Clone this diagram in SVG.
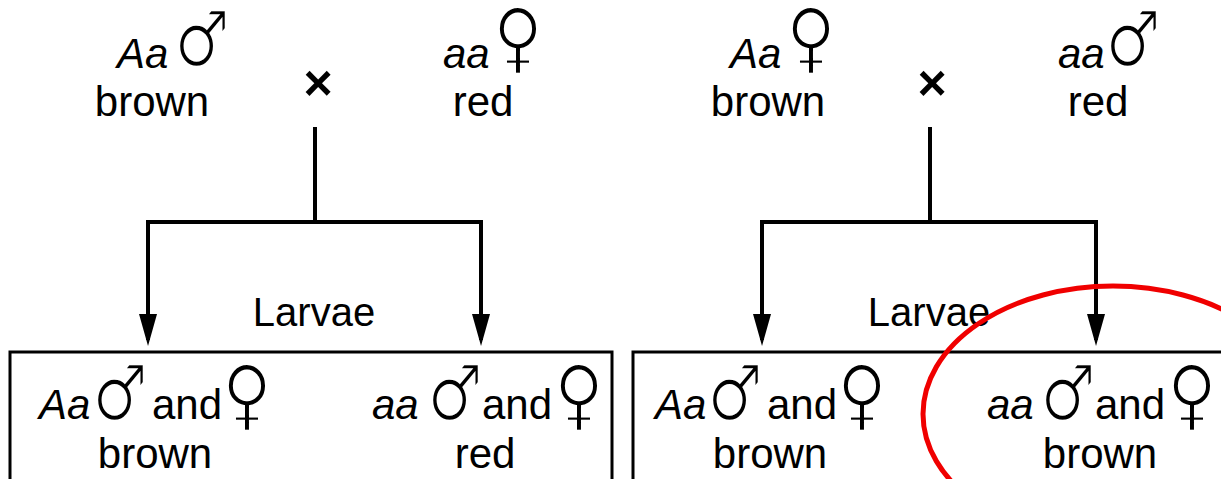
<svg xmlns="http://www.w3.org/2000/svg" width="1221" height="479" viewBox="0 0 1221 479">
  <style>
    .t { font-family: "Liberation Sans", Arial, sans-serif; font-size: 42px; fill: #000; }
    .i { font-style: italic; }
    .m { text-anchor: middle; }
    /* sex symbols: glyphs thinned with a white outline */
    .male { font-family: "DejaVu Sans", sans-serif; font-size: 62px; text-anchor: middle; fill: #000; stroke: #fff; stroke-width: 2; }
    .female { font-family: "DejaVu Sans", sans-serif; font-size: 68px; text-anchor: middle; fill: #000; stroke: #fff; stroke-width: 2; }
    .x { font-family: "Liberation Sans", Arial, sans-serif; font-size: 50px; font-weight: bold; text-anchor: middle; }
    .lbl { font-family: "Liberation Sans", Arial, sans-serif; font-size: 40px; text-anchor: middle; }
    .wire { fill: none; stroke: #000; stroke-width: 4; }
    .box { fill: none; stroke: #000; stroke-width: 3; }
  </style>
  <defs>
    <marker id="arrow" markerUnits="userSpaceOnUse" viewBox="0 0 32 18" refX="26" refY="9" markerWidth="32" markerHeight="18" orient="auto">
      <path d="M0,0 L32,9 L0,18 z" fill="#000"/>
    </marker>
  </defs>
  <rect width="1221" height="479" fill="#fff"/>

  <!-- left cross: Aa male x aa female -->
  <g id="left-parent-male">
    <text class="t i" x="117" y="68">Aa</text>
    <text class="male" transform="translate(202,66) scale(1,1.25)">♂</text>
    <text class="t m" x="152" y="116">brown</text>
  </g>
  <g id="left-cross"><text class="x" x="318" y="100">×</text></g>
  <g id="left-parent-female">
    <text class="t i" x="443" y="68">aa</text>
    <text class="female" transform="translate(518,64) scale(1,1.15)">♀</text>
    <text class="t m" x="483" y="116">red</text>
  </g>
  <g id="left-larvae-label"><text class="lbl" x="314" y="326">Larvae</text></g>
  <g id="left-offspring">
    <rect class="box" x="10" y="352" width="602" height="150"/>
    <text class="t i" x="39" y="419">Aa</text>
    <text class="male" transform="translate(120,420) scale(1,1.25)">♂</text>
    <text class="t" x="152" y="419">and</text>
    <text class="female" transform="translate(247,421) scale(1,1.15)">♀</text>
    <text class="t m" x="155" y="468">brown</text>
    <text class="t i" x="372" y="419">aa</text>
    <text class="male" transform="translate(455,420) scale(1,1.25)">♂</text>
    <text class="t" x="482" y="419">and</text>
    <text class="female" transform="translate(579,421) scale(1,1.15)">♀</text>
    <text class="t m" x="485" y="468">red</text>
  </g>

  <!-- right cross: Aa female x aa male -->
  <g id="right-parent-female">
    <text class="t i" x="730" y="68">Aa</text>
    <text class="female" transform="translate(811,64) scale(1,1.15)">♀</text>
    <text class="t m" x="768" y="116">brown</text>
  </g>
  <g id="right-cross"><text class="x" x="932" y="100">×</text></g>
  <g id="right-parent-male">
    <text class="t i" x="1058" y="68">aa</text>
    <text class="male" transform="translate(1133,66) scale(1,1.25)">♂</text>
    <text class="t m" x="1098" y="116">red</text>
  </g>
  <g id="right-larvae-label"><text class="lbl" x="929" y="326">Larvae</text></g>
  <g id="right-offspring">
    <rect class="box" x="633" y="352" width="600" height="150"/>
    <text class="t i" x="655" y="419">Aa</text>
    <text class="male" transform="translate(735,420) scale(1,1.25)">♂</text>
    <text class="t" x="767" y="419">and</text>
    <text class="female" transform="translate(862,421) scale(1,1.15)">♀</text>
    <text class="t m" x="770" y="468">brown</text>
    <text class="t i" x="987" y="419">aa</text>
    <text class="male" transform="translate(1068,420) scale(1,1.25)">♂</text>
    <text class="t" x="1095" y="419">and</text>
    <text class="female" transform="translate(1192,421) scale(1,1.15)">♀</text>
    <text class="t m" x="1100" y="468">brown</text>
  </g>

  <g id="connectors">
    <path class="wire" d="M315,127 V222"/>
    <path class="wire" d="M315,222 H148 V340" marker-end="url(#arrow)"/>
    <path class="wire" d="M315,222 H481 V340" marker-end="url(#arrow)"/>
    <path class="wire" d="M930,127 V222"/>
    <path class="wire" d="M930,222 H762 V340" marker-end="url(#arrow)"/>
    <path class="wire" d="M930,222 H1096 V340" marker-end="url(#arrow)"/>
  </g>

  <g id="highlight">
    <ellipse cx="1113" cy="414" rx="190" ry="128" fill="none" stroke="#f00000" stroke-width="5"/>
  </g>
</svg>
